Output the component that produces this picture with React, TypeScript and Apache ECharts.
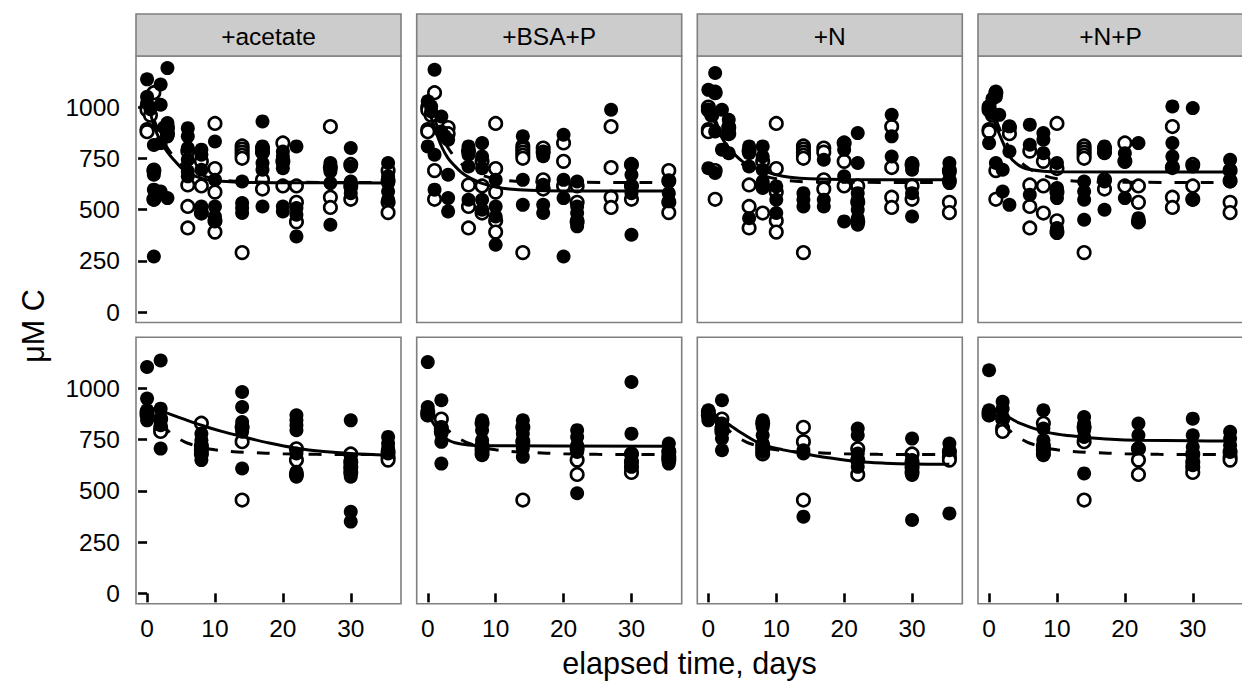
import React, { useEffect, useRef } from "react";
import * as echarts from "echarts";

// ---------- texts ----------
const facetLabels = ["+acetate", "+BSA+P", "+N", "+N+P"];
const xTicks = [0, 10, 20, 30];
const yTicks = [0, 250, 500, 750, 1000];
const xTitle = "elapsed time, days";
const yTitle = "μM C";

// ---------- data: [elapsed day, µM C] ----------
// top row: control (open circles), shared by every panel of the row
const topControl = [
  [0, 1000], [0, 985], [0.5, 960], [0, 890], [0, 880],
  [1, 1070], [1, 690], [1, 550],
  [3, 900], [3, 870],
  [6, 785], [6, 620], [6, 515], [6, 410],
  [8, 735], [8, 615], [8, 483],
  [10, 920], [10, 700], [10, 585], [10, 445], [10, 390],
  [14, 810], [14, 795], [14, 780], [14, 765], [14, 750], [14, 290],
  [17, 800], [17, 780], [17, 645], [17, 600],
  [20, 825], [20, 735], [20, 615],
  [22, 615], [22, 535], [22, 440],
  [27, 905], [27, 705], [27, 560], [27, 510],
  [30, 720], [30, 615], [30, 550],
  [35.5, 690], [35.5, 640], [35.5, 535], [35.5, 485],
];
const topAcetate = [
  [0, 1135], [0, 1050], [0, 1020], [0.5, 990],
  [1, 815], [1, 695], [1, 670], [1, 597], [1, 548], [1, 271],
  [2, 1110], [2, 1011], [2, 824], [2, 588], [2.5, 900],
  [3, 1190], [3, 922], [3, 889], [3, 870], [3, 857], [3, 556],
  [6, 897], [6, 857], [6, 800], [6, 743], [6, 686], [6, 662],
  [8, 792], [8, 767], [8, 694], [8, 515], [8, 483],
  [10, 832], [10, 645], [10, 515], [10, 466], [10, 442],
  [14, 637], [14, 532], [14, 507], [14, 483],
  [17, 930], [17, 808], [17, 776], [17, 727], [17, 694], [17, 515],
  [20, 783], [20, 759], [20, 727], [20, 702], [20, 515], [20, 491],
  [22, 808], [22, 507], [22, 475], [22, 369],
  [27, 727], [27, 686], [27, 629], [27, 426],
  [30, 800], [30, 710], [30, 637], [30, 605], [30, 580],
  [35.5, 727], [35.5, 662], [35.5, 629], [35.5, 588], [35.5, 548],
];
const topBsaP = [
  [1, 1182], [0, 1028], [0.5, 1003], [0.5, 979], [2, 954], [2, 881], [2.5, 857], [3, 841],
  [0, 808], [1, 767], [3, 670], [1, 597], [3, 556], [3, 491],
  [6, 808], [6, 767], [6, 710], [6, 548],
  [8, 824], [8, 759], [8, 702], [8, 548], [8, 499],
  [10, 645], [10, 515], [10, 466], [10, 328],
  [14, 857], [14, 645], [14, 523],
  [17, 780], [17, 760], [17, 621], [17, 523], [17, 483],
  [20, 865], [20, 645], [20, 556], [20, 271],
  [22, 637], [22, 515], [22, 483], [22, 450], [22, 418],
  [27, 987],
  [30, 718], [30, 670], [30, 613], [30, 580], [30, 377],
  [35.5, 637], [35.5, 580], [35.5, 540],
];
const topN = [
  [1, 1166], [0, 1084], [1, 1076], [0, 987], [0.5, 962], [2, 987], [3, 938], [3, 906], [3, 873],
  [1, 881], [2, 792], [3, 775], [0, 702], [1, 678],
  [6, 808], [6, 775], [6, 710], [6, 458],
  [8, 808], [8, 759], [8, 694], [8, 637], [8, 605],
  [10, 613], [10, 548], [10, 483],
  [14, 580], [14, 548], [14, 515],
  [17, 743], [17, 548], [17, 515],
  [20, 824], [20, 792], [20, 662], [20, 442],
  [22, 873], [22, 727], [22, 580], [22, 548], [22, 499], [22, 458], [22, 426],
  [27, 962], [27, 857], [27, 759],
  [30, 727], [30, 694], [30, 580], [30, 466],
  [35.5, 727], [35.5, 678], [35.5, 629],
];
const topNP = [
  [1, 1076], [1, 1050], [0.5, 1040], [0, 1003], [0.3, 971], [1.5, 962], [3, 906], [0, 824], [3, 783],
  [1, 727], [2, 694], [2, 588], [3, 523],
  [6, 914], [6, 816], [6, 572],
  [8, 873], [8, 841], [8, 775],
  [10, 727], [10, 605], [10, 556], [10, 410], [10, 385],
  [14, 637], [14, 588], [14, 548], [14, 450],
  [17, 808], [17, 775], [17, 637], [17, 499],
  [20, 775], [20, 735], [20, 556],
  [22, 824], [22, 458], [22, 442],
  [27, 1003], [27, 824], [27, 759], [27, 710],
  [30, 995], [30, 710], [30, 548],
  [35.5, 743], [35.5, 694], [35.5, 637],
];

// bottom row
const bottomControl = [
  [0, 885], [0, 870], [2, 850], [2, 805], [2, 790],
  [8, 830], [8, 720], [8, 700], [8, 680],
  [14, 810], [14, 740], [14, 455],
  [22, 705], [22, 650], [22, 580],
  [30, 680], [30, 640], [30, 615], [30, 590],
  [35.5, 690], [35.5, 665], [35.5, 650],
];
const bottomAcetate = [
  [0, 1104], [0, 950], [0, 893], [0, 844],
  [2, 1136], [2, 901], [2, 852], [2, 820], [2, 706],
  [8, 779], [8, 747], [8, 715], [8, 682], [8, 650],
  [14, 982], [14, 909], [14, 836], [14, 812], [14, 788], [14, 609],
  [22, 869], [22, 844], [22, 820], [22, 796], [22, 682], [22, 593], [22, 569],
  [30, 844], [30, 650], [30, 609], [30, 569], [30, 398], [30, 350],
  [35.5, 763], [35.5, 731], [35.5, 706], [35.5, 682],
];
const bottomBsaP = [
  [0, 1128], [0, 909], [0, 869],
  [2, 942], [2, 812], [2, 779], [2, 739], [2, 633],
  [8, 844], [8, 796], [8, 747], [8, 706], [8, 674],
  [14, 844], [14, 812], [14, 779], [14, 747], [14, 706], [14, 666],
  [22, 796], [22, 763], [22, 723], [22, 690], [22, 488],
  [30, 1031], [30, 779], [30, 682], [30, 650], [30, 617],
  [35.5, 731], [35.5, 698], [35.5, 666], [35.5, 633],
];
const bottomN = [
  [0, 893], [0, 860], [0, 844],
  [2, 942], [2, 828], [2, 796], [2, 755], [2, 698],
  [8, 844], [8, 812], [8, 771], [8, 731], [8, 690],
  [14, 698], [14, 682], [14, 374],
  [22, 804], [22, 771], [22, 682], [22, 650], [22, 617],
  [30, 755], [30, 650], [30, 609], [30, 577], [30, 358],
  [35.5, 731], [35.5, 698], [35.5, 390],
];
const bottomNP = [
  [0, 1088], [0, 893], [0, 869],
  [2, 934], [2, 901], [2, 860],
  [8, 893], [8, 804], [8, 747], [8, 706], [8, 674],
  [14, 860], [14, 828], [14, 796], [14, 763], [14, 585],
  [22, 828], [22, 771], [22, 706],
  [30, 852], [30, 771], [30, 714], [30, 666], [30, 625],
  [35.5, 788], [35.5, 755], [35.5, 722], [35.5, 690],
];

// fitted curves
const topControlFit = [
  [1, 940], [2, 860], [3, 800], [4, 755], [5, 722], [6, 698], [7, 680], [8, 667],
  [10, 650], [12, 640], [15, 635], [20, 633], [35.5, 632],
];
const topAcetateFit = [
  [0.3, 1000], [1, 910], [2, 832], [3, 780], [4, 740], [5, 705], [6, 680], [8, 652],
  [10, 640], [14, 633], [20, 631], [35.5, 630],
];
const topBsaPFit = [
  [0, 1000], [1, 900], [2, 810], [3, 750], [4, 712], [5, 680], [6, 658], [7, 642], [8, 628],
  [10, 610], [12, 600], [15, 594], [20, 591], [35.5, 590],
];
const topNFit = [
  [0, 1000], [1, 920], [2, 850], [3, 800], [4, 765], [5, 735], [6, 715], [8, 690],
  [10, 670], [12, 658], [15, 650], [20, 646], [35.5, 645],
];
const topNPFit = [
  [0, 1000], [1, 910], [2, 830], [3, 760], [4, 725], [5, 705], [6, 695], [8, 687],
  [10, 684], [35.5, 683],
];
const bottomControlFit = [
  [2, 830], [3, 795], [4, 768], [5, 748], [6, 732], [8, 712], [10, 700], [12, 693],
  [15, 687], [20, 681], [25, 678], [35.5, 677],
];
const bottomAcetateFit = [
  [0, 905], [2, 890], [5, 855], [8, 820], [11, 790], [14, 765], [18, 733], [22, 708],
  [26, 692], [30, 682], [35.5, 674],
];
const bottomBsaPFit = [
  [0, 880], [1, 820], [2, 775], [3, 748], [4, 735], [6, 724], [8, 720], [35.5, 718],
];
const bottomNFit = [
  [0, 880], [2, 845], [5, 780], [8, 725], [11, 700], [14, 682], [18, 660], [22, 643],
  [26, 635], [30, 631], [35.5, 630],
];
const bottomNPFit = [
  [0, 900], [2, 875], [4.5, 830], [8, 790], [11, 772], [14, 762], [18, 752], [22, 747],
  [30, 744], [35.5, 743],
];

const rows = [
  { control: topControl, controlFit: topControlFit, treat: [topAcetate, topBsaP, topN, topNP], fits: [topAcetateFit, topBsaPFit, topNFit, topNPFit] },
  { control: bottomControl, controlFit: bottomControlFit, treat: [bottomAcetate, bottomBsaP, bottomN, bottomNP], fits: [bottomAcetateFit, bottomBsaPFit, bottomNFit, bottomNPFit] },
];

// ---------- layout ----------
const PANEL_LEFTS = [136, 416.7, 697.3, 978];
const PANEL_W = 265;
const ROW_TOPS = [56, 337.3];
const ROW_H = 266.5;
const STRIP_TOP = 14;
const X_MIN = -1.63;
const X_MAX = 37.4;
const Y_MIN = -51;
const Y_MAX = 1249;
const FONT = "'Liberation Sans', Arial, Helvetica, sans-serif";
const BORDER = "#7f7f7f";
const LABEL_SIZE = 24.5;
const TITLE_SIZE = 30.5;

export default function App() {
  const ref = useRef<HTMLDivElement>(null);
  useEffect(() => {
    const chart = echarts.init(ref.current!, null, { renderer: "svg" });
    const grid: any[] = [];
    const xAxis: any[] = [];
    const yAxis: any[] = [];
    const series: any[] = [];
    const graphic: any[] = [];
    let idx = 0;
    rows.forEach((row, r) => {
      for (let c = 0; c < 4; c++) {
        grid.push({
          left: PANEL_LEFTS[c], top: ROW_TOPS[r], width: PANEL_W, height: ROW_H,
          show: true, borderColor: BORDER, borderWidth: 1.6, backgroundColor: "#fff",
        });
        xAxis.push({
          type: "value", gridIndex: idx, min: X_MIN, max: X_MAX,
          axisLine: { show: false }, splitLine: { show: false },
          axisTick: { show: r === 1, customValues: xTicks, length: 9, lineStyle: { color: "#000", width: 2.6 } },
          axisLabel: {
            show: r === 1, customValues: xTicks, color: "#000", fontSize: LABEL_SIZE, fontFamily: FONT, margin: 12,
            formatter: (v: number) => String(v),
          },
        });
        yAxis.push({
          type: "value", gridIndex: idx, min: Y_MIN, max: Y_MAX,
          axisLine: { show: false }, splitLine: { show: false },
          axisTick: { show: c === 0, customValues: yTicks, length: 9, lineStyle: { color: "#000", width: 2.6 } },
          axisLabel: {
            show: c === 0, customValues: yTicks, color: "#000", fontSize: LABEL_SIZE, fontFamily: FONT, margin: 16,
            formatter: (v: number) => String(v),
          },
        });
        series.push({
          type: "scatter", xAxisIndex: idx, yAxisIndex: idx, data: row.control, z: 2,
          symbol: "circle", symbolSize: 12.5, silent: true,
          itemStyle: { color: "#fff", borderColor: "#000", borderWidth: 2.6, opacity: 1 },
        });
        series.push({
          type: "scatter", xAxisIndex: idx, yAxisIndex: idx, data: row.treat[c], z: 3,
          symbol: "circle", symbolSize: 14, silent: true,
          itemStyle: { color: "#000", opacity: 1 },
        });
        series.push({
          type: "line", xAxisIndex: idx, yAxisIndex: idx, data: row.controlFit, z: 4,
          showSymbol: false, smooth: 0.35, silent: true,
          lineStyle: { color: "#000", width: 3, type: [13, 13] },
        });
        series.push({
          type: "line", xAxisIndex: idx, yAxisIndex: idx, data: row.fits[c], z: 5,
          showSymbol: false, smooth: 0.35, silent: true,
          lineStyle: { color: "#000", width: 3, type: "solid" },
        });
        idx++;
      }
    });
    for (let c = 0; c < 4; c++) {
      graphic.push({
        type: "rect", x: PANEL_LEFTS[c], y: STRIP_TOP,
        shape: { x: 0, y: 0, width: PANEL_W, height: ROW_TOPS[0] - STRIP_TOP },
        style: { fill: "#cccccc", stroke: BORDER, lineWidth: 1.6 }, z: 10,
      });
      graphic.push({
        type: "text", x: PANEL_LEFTS[c] + PANEL_W / 2, y: (STRIP_TOP + ROW_TOPS[0]) / 2 + 1,
        style: { text: facetLabels[c], fill: "#000", font: `${LABEL_SIZE}px ${FONT}`, textAlign: "center", textVerticalAlign: "middle" },
        z: 11,
      });
    }
    graphic.push({
      type: "text", x: 33, y: 326, rotation: Math.PI / 2,
      style: { text: yTitle, fill: "#000", font: `${TITLE_SIZE}px ${FONT}`, textAlign: "center", textVerticalAlign: "middle" },
      z: 11,
    });
    graphic.push({
      type: "text", x: (PANEL_LEFTS[0] + PANEL_LEFTS[3] + PANEL_W) / 2, y: 663,
      style: { text: xTitle, fill: "#000", font: `${TITLE_SIZE}px ${FONT}`, textAlign: "center", textVerticalAlign: "middle" },
      z: 11,
    });
    chart.setOption({
      animation: false,
      backgroundColor: "#fff",
      grid, xAxis, yAxis, series, graphic,
    });
    return () => chart.dispose();
  }, []);
  return (
    <div style={{ position: "fixed", left: 0, top: 0, width: 1242, height: 689, overflow: "hidden", background: "#fff" }}>
      <div ref={ref} style={{ width: 1270, height: 689 }} />
    </div>
  );
}
